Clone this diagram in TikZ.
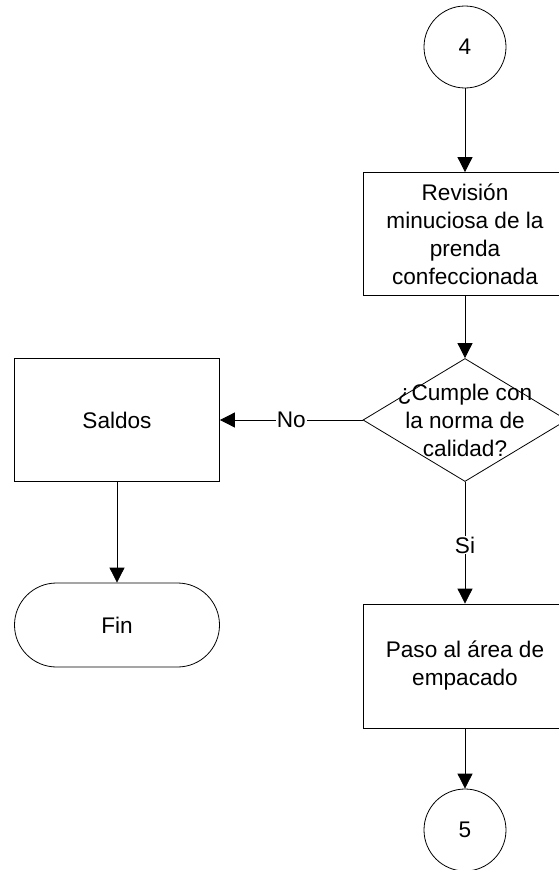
\documentclass[tikz,border=0pt]{standalone}
\usepackage{fontspec}
\setmainfont{Liberation Sans}
\usetikzlibrary{arrows.meta,shapes.geometric}
\begin{document}
\begin{tikzpicture}[x=1pt,y=-1pt,
  every node/.style={font=\fontsize{22.6}{28}\selectfont},
  line/.style={draw=black,line width=0.8pt},
  arr/.style={line,-{Triangle[length=15pt,width=15pt]}},
  procbox/.style={line,rectangle,minimum width=204pt,minimum height=123pt,inner sep=0pt,align=center},
  conn/.style={line,circle,minimum size=82pt,inner sep=0pt},
  decision/.style={line,diamond,minimum width=204pt,minimum height=123pt,inner sep=0pt},
  term/.style={line,rectangle,rounded corners=42pt,minimum width=205pt,minimum height=84pt,inner sep=0pt},
  lbl/.style={fill=white,inner sep=1pt}]
\useasboundingbox (0,0) rectangle (559,870);
\node[conn] (c4) at (465,47) {4};
\node[procbox] (r1) at (465,234) {Revisión\\minuciosa de la\\prenda\\confeccionada};
\node[decision] (d) at (465,420) {};
\node[align=center] (dt) at (465,420) {¿Cumple con\\la norma de\\calidad?};
\node[procbox,minimum width=205pt] (s) at (117,420) {Saldos};
\node[term] (fin) at (117,625) {Fin};
\node[procbox,minimum height=124pt] (p) at (465,666) {Paso al área de\\empacado};
\node[conn] (c5) at (465,830) {5};
\draw[arr] (c4) -- (r1);
\draw[arr] (r1) -- (d);
\draw[arr] (d.west) -- node[lbl]{No} (s.east);
\draw[arr] (s) -- (fin);
\draw[arr] (d.south) -- node[lbl,pos=0.52]{Si} (p.north);
\draw[arr] (p) -- (c5);
\end{tikzpicture}
\end{document}
